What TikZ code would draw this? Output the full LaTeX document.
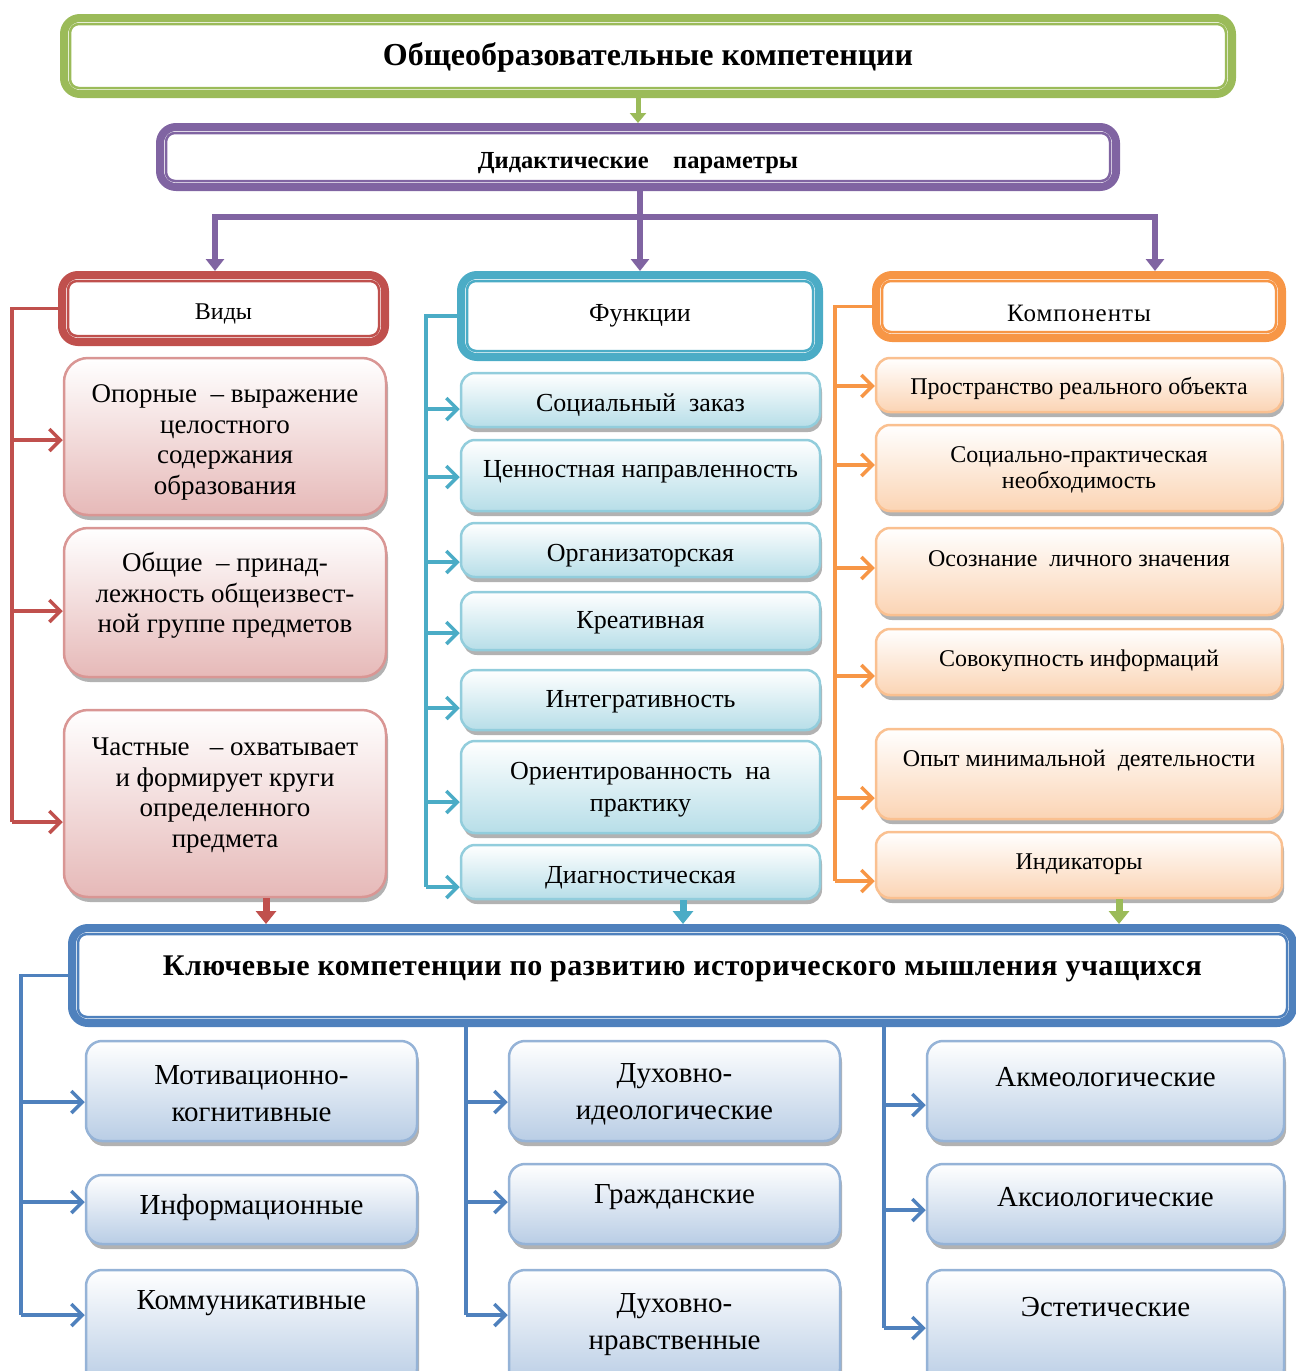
\documentclass[tikz,border=0pt]{standalone}
\usepackage{fontspec}
\setmainfont{Liberation Serif}
\newfontfamily\spacedfont[LetterSpace=4]{Liberation Serif}
\newfontfamily\keyfont[LetterSpace=1.5]{Liberation Serif}
\usetikzlibrary{arrows.meta,shadows,calc}
\definecolor{grn}{HTML}{9BBB59}
\definecolor{pur}{HTML}{8064A2}
\definecolor{rd}{HTML}{C0504D}
\definecolor{cyn}{HTML}{4BACC6}
\definecolor{org}{HTML}{F79646}
\definecolor{blu}{HTML}{4F81BD}
\definecolor{pinkf}{HTML}{E6B9B8}
\definecolor{pinkb}{HTML}{D99694}
\definecolor{cynf}{HTML}{B7DEE8}
\definecolor{cynb}{HTML}{92CDDC}
\definecolor{orgf}{HTML}{FBD4B4}
\definecolor{orgb}{HTML}{FAC090}
\definecolor{bluf}{HTML}{B9CDE5}
\definecolor{blub}{HTML}{95B3D7}
\tikzset{
  shd/.style={drop shadow={shadow xshift=2pt,shadow yshift=-5pt,fill=black,opacity=.3}},
  pbox/.style={shd,draw=pinkb,line width=2.5pt,rounded corners=24pt,top color=white,bottom color=pinkf},
  cbox/.style={shd,draw=cynb,line width=2.5pt,rounded corners=14pt,top color=white,bottom color=cynf},
  obox/.style={shd,draw=orgb,line width=2.5pt,rounded corners=14pt,top color=white,bottom color=orgf},
  bbox/.style={shd,draw=blub,line width=2.5pt,rounded corners=16pt,top color=white,bottom color=bluf},
  basetxt/.style={align=center,inner sep=0pt,text=black,yshift=-2.5pt},
  pboxtxt/.style={basetxt,font=\fontsize{27pt}{30.5pt}\selectfont},
  cboxtxt/.style={basetxt,font=\fontsize{26pt}{32pt}\selectfont},
  oboxtxt/.style={basetxt,font=\fontsize{24pt}{26pt}\selectfont},
  bboxtxt/.style={basetxt,font=\fontsize{29pt}{37pt}\selectfont},
  tree/.style={line width=3.5pt},
  barb/.style={-{Straight Barb[length=11pt,width=22pt]}},
  purline/.style={pur,line width=6pt,-{Triangle[length=12pt,width=18pt]}},
  down/.style={line width=7pt,-{Triangle[length=13pt,width=20pt]}}
}
\newcommand\hdr[9]{%
  \node[draw=#2,line width=8pt,rounded corners=16pt,fill=white,inner sep=0pt,
        minimum width={#5-#3-8},minimum height={#6-#4-8}] (#1) at ({(#3+#5)/2},{(#4+#6)/2}) {};
  \draw[#2,line width=2.5pt,rounded corners=9pt] ([shift={(10,10)}]#1.north west) rectangle ([shift={(-10,-10)}]#1.south east);
  \node[basetxt,font=#8] (#1t) at ({(#3+#5)/2},#7) {#9};
}
\newcommand\bx[8]{%
  \node[#2,minimum width={#5-#3},minimum height={#6-#4},inner sep=0pt] (#1) at ({(#3+#5)/2},{(#4+#6)/2}) {};
  \node[#2txt] (#1t) at ({(#3+#5)/2},#7) {#8};
}
\begin{document}
\begin{tikzpicture}[x=1pt,y=-1pt]
\useasboundingbox (0,0) rectangle (1296,1371);
% headers
\hdr{top}{grn}{60}{14}{1236}{98}{55}{\bfseries\fontsize{32pt}{36pt}\selectfont}{Общеобразовательные компетенции}
\hdr{did}{pur}{156}{123}{1120}{191}{161}{\bfseries\fontsize{24.5pt}{27pt}\selectfont}{Дидактические\quad параметры}
\hdr{vid}{rd}{58}{271}{389}{346}{311}{\fontsize{24pt}{28pt}\selectfont}{Виды}
\hdr{fun}{cyn}{457}{271}{823}{361}{313}{\fontsize{26pt}{28pt}\selectfont}{Функции}
\hdr{kom}{org}{872}{271}{1286}{342}{311}{\spacedfont\fontsize{25pt}{28pt}\selectfont}{Компоненты}
\hdr{key}{blu}{68}{924}{1297}{1027}{966}{\keyfont\bfseries\fontsize{30pt}{32pt}\selectfont}{Ключевые компетенции по развитию исторического мышления учащихся}
% top connectors
\draw[grn,line width=5pt,-{Triangle[length=10pt,width=16pt]}] (did.north |- top.south) -- (did.north);
\coordinate (pj) at (640,217);
\coordinate (pl) at (215,217);
\coordinate (pr) at (1155,217);
\draw[purline] (pj |- did.south) -- (pj |- fun.north);
\draw[purline] (pj) -- (pl) -- (pl |- vid.north);
\draw[purline] (pj) -- (pr) -- (pr |- kom.north);
% red column
\bx{r1}{pbox}{64}{358}{386}{515}{440}{Опорные~ – выражение\\целостного\\содержания\\образования}
\bx{r2}{pbox}{64}{528}{386}{677}{593}{Общие~ – принад-\\лежность общеизвест-\\ной группе предметов}
\bx{r3}{pbox}{64}{710}{386}{897}{793}{Частные~~ – охватывает\\и формирует круги\\определенного\\предмета}
% cyan column
\bx{c1}{cbox}{461}{373}{820}{427}{403}{Социальный~ заказ}
\bx{c2}{cbox}{461}{440}{820}{511}{469}{Ценностная направленность}
\bx{c3}{cbox}{461}{523}{820}{577}{553}{Организаторская}
\bx{c4}{cbox}{461}{592}{820}{650}{620}{Креативная}
\bx{c5}{cbox}{461}{670}{820}{730}{699}{Интегративность}
\bx{c6}{cbox}{461}{741}{820}{833}{787}{Ориентированность~ на\\практику}
\bx{c7}{cbox}{461}{845}{820}{899}{875}{Диагностическая}
% orange column
\bx{o1}{obox}{876}{358}{1282}{412}{386}{Пространство реального объекта}
\bx{o2}{obox}{876}{425}{1282}{511}{467}{Социально-практическая\\необходимость}
\bx{o3}{obox}{876}{528}{1282}{615}{556}{Осознание~ личного значения}
\bx{o4}{obox}{876}{629}{1282}{695}{658}{Совокупность информаций}
\bx{o5}{obox}{876}{729}{1282}{819}{758}{Опыт минимальной~ деятельности}
\bx{o6}{obox}{876}{832}{1282}{898}{862}{Индикаторы}
% bottom boxes
\bx{b1}{bbox}{86}{1041}{417}{1141}{1091}{Мотивационно-\\когнитивные}
\bx{b2}{bbox}{86}{1175}{417}{1244}{1205}{Информационные}
\bx{b3}{bbox}{86}{1270}{417}{1385}{1301}{Коммуникативные}
\bx{b4}{bbox}{509}{1041}{840}{1141}{1092}{Духовно-\\идеологические}
\bx{b5}{bbox}{509}{1164}{840}{1244}{1195}{Гражданские}
\bx{b6}{bbox}{509}{1270}{840}{1385}{1322}{Духовно-\\нравственные}
\bx{b7}{bbox}{927}{1041}{1284}{1141}{1075}{Акмеологические}
\bx{b8}{bbox}{927}{1164}{1284}{1244}{1195}{Аксиологические}
\bx{b9}{bbox}{927}{1270}{1284}{1385}{1305}{Эстетические}
% red tree
\coordinate (ra1) at (12,440);
\coordinate (ra2) at (12,611);
\coordinate (ra3) at (12,822);
\draw[rd,tree] (vid.west) -| (ra3);
\draw[rd,tree,barb] (ra1) -- (ra1 -| r1.west);
\draw[rd,tree,barb] (ra2) -- (ra2 -| r2.west);
\draw[rd,tree,barb] (ra3) -- (ra3 -| r3.west);
% cyan tree
\coordinate (ca1) at (426,409);
\coordinate (ca2) at (426,477);
\coordinate (ca3) at (426,562);
\coordinate (ca4) at (426,633);
\coordinate (ca5) at (426,708);
\coordinate (ca6) at (426,802);
\coordinate (ca7) at (426,887);
\draw[cyn,tree] (fun.west) -| (ca7);
\foreach \i in {1,...,7}{\draw[cyn,tree,barb] (ca\i) -- (ca\i -| c\i.west);}
% orange tree
\coordinate (oa1) at (835,386);
\coordinate (oa2) at (835,465);
\coordinate (oa3) at (835,568);
\coordinate (oa4) at (835,676);
\coordinate (oa5) at (835,798);
\coordinate (oa6) at (835,881);
\draw[org,tree] (kom.west) -| (oa6);
\foreach \i in {1,...,6}{\draw[org,tree,barb] (oa\i) -- (oa\i -| o\i.west);}
% down arrows to key box
\coordinate (dr) at (266,0);
\coordinate (dc) at (683,0);
\coordinate (dg) at (1119,0);
\draw[rd,down] (dr |- r3.south) -- (dr |- key.north);
\draw[cyn,down] (dc |- c7.south) -- (dc |- key.north);
\draw[grn,down] (dg |- o6.south) -- (dg |- key.north);
% blue trees
\coordinate (la1) at (21,1102);
\coordinate (la2) at (21,1202);
\coordinate (la3) at (21,1315);
\draw[blu,tree] (key.west) -| (la3);
\draw[blu,tree,barb] (la1) -- (la1 -| b1.west);
\draw[blu,tree,barb] (la2) -- (la2 -| b2.west);
\draw[blu,tree,barb] (la3) -- (la3 -| b3.west);
\coordinate (ma1) at (466,1102);
\coordinate (ma2) at (466,1202);
\coordinate (ma3) at (466,1315);
\draw[blu,tree] (ma1 |- key.south) -- (ma3);
\draw[blu,tree,barb] (ma1) -- (ma1 -| b4.west);
\draw[blu,tree,barb] (ma2) -- (ma2 -| b5.west);
\draw[blu,tree,barb] (ma3) -- (ma3 -| b6.west);
\coordinate (na1) at (884,1105);
\coordinate (na2) at (884,1210);
\coordinate (na3) at (884,1328);
\draw[blu,tree] (na1 |- key.south) -- (na3);
\draw[blu,tree,barb] (na1) -- (na1 -| b7.west);
\draw[blu,tree,barb] (na2) -- (na2 -| b8.west);
\draw[blu,tree,barb] (na3) -- (na3 -| b9.west);
\end{tikzpicture}
\end{document}
